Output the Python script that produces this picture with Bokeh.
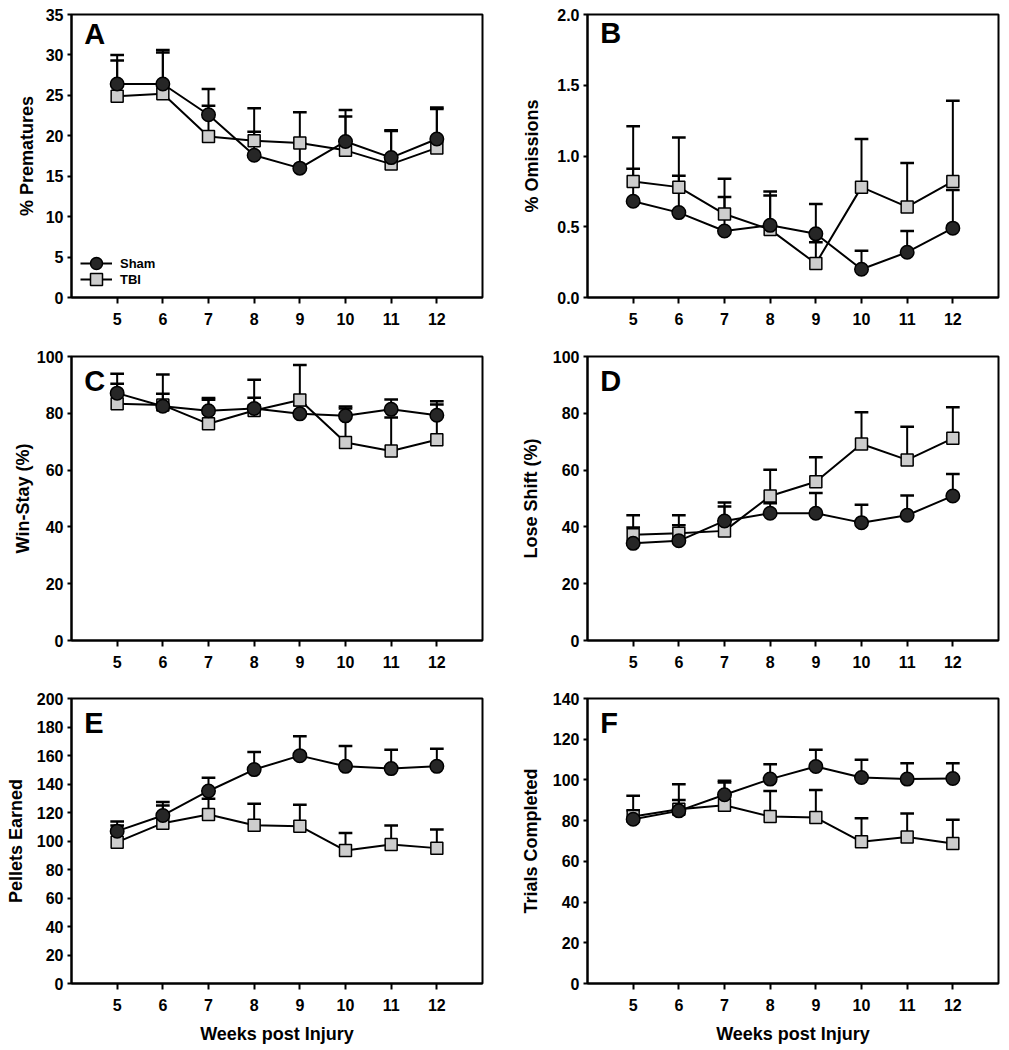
import numpy as np
from bokeh.plotting import figure
from bokeh.models import Range1d, FixedTicker, Label, Legend, LegendItem, NumeralTickFormatter
from bokeh.layouts import gridplot
from bokeh.embed import file_html
from bokeh.resources import INLINE

# ---------------- data ----------------
weeks = [5, 6, 7, 8, 9, 10, 11, 12]

# A: % Premature responses
sham_prem = [26.4, 26.4, 22.6, 17.6, 16.0, 19.3, 17.3, 19.6]
sham_prem_sem = [3.6, 4.2, 3.2, 2.9, 3.0, 3.9, 3.4, 3.9]
tbi_prem = [24.9, 25.2, 19.9, 19.4, 19.1, 18.2, 16.5, 18.5]
tbi_prem_sem = [4.4, 5.1, 3.8, 4.0, 3.8, 4.2, 4.1, 4.8]
ticks_prem = [0, 5, 10, 15, 20, 25, 30, 35]

# B: % Omissions
sham_om = [0.68, 0.60, 0.47, 0.51, 0.45, 0.20, 0.32, 0.49]
sham_om_sem = [0.23, 0.26, 0.24, 0.21, 0.21, 0.13, 0.15, 0.27]
tbi_om = [0.82, 0.78, 0.59, 0.48, 0.24, 0.78, 0.64, 0.82]
tbi_om_sem = [0.39, 0.35, 0.25, 0.27, 0.15, 0.34, 0.31, 0.57]
ticks_om = [0.0, 0.5, 1.0, 1.5, 2.0]

# C: Win-Stay (%)
sham_ws = [87.1, 82.5, 80.9, 81.7, 79.8, 79.1, 81.4, 79.3]
sham_ws_sem = [6.8, 4.4, 4.5, 3.8, 3.0, 3.3, 3.5, 4.9]
tbi_ws = [83.4, 82.9, 76.3, 81.0, 84.7, 69.7, 66.7, 70.7]
tbi_ws_sem = [7.0, 10.8, 8.5, 10.8, 12.3, 12.0, 11.8, 12.4]
ticks_ws = [0, 20, 40, 60, 80, 100]

# D: Lose Shift (%)
sham_ls = [34.2, 35.1, 42.1, 44.8, 44.8, 41.5, 44.1, 50.9]
sham_ls_sem = [5.6, 5.5, 6.5, 3.5, 7.1, 6.3, 7.0, 7.7]
tbi_ls = [37.2, 37.8, 38.6, 50.9, 55.9, 69.2, 63.6, 71.2]
tbi_ls_sem = [6.9, 6.3, 8.6, 9.2, 8.6, 11.2, 11.7, 10.9]
ticks_ls = [0, 20, 40, 60, 80, 100]

# E: Pellets Earned
sham_pel = [106.9, 117.9, 135.1, 150.1, 159.9, 152.4, 150.8, 152.4]
sham_pel_sem = [6.8, 9.4, 9.3, 12.4, 13.6, 14.3, 13.3, 12.4]
tbi_pel = [99.2, 112.5, 118.6, 111.1, 110.4, 93.3, 97.5, 95.0]
tbi_pel_sem = [11.7, 12.5, 11.0, 15.0, 15.0, 12.4, 13.4, 13.1]
ticks_pel = [0, 20, 40, 60, 80, 100, 120, 140, 160, 180, 200]

# F: Trials Completed
sham_tr = [80.7, 84.8, 92.7, 100.4, 106.6, 101.2, 100.4, 100.7]
sham_tr_sem = [4.4, 5.4, 6.9, 7.3, 8.2, 8.7, 7.8, 7.5]
tbi_tr = [82.0, 85.6, 87.6, 82.0, 81.5, 69.6, 72.0, 68.8]
tbi_tr_sem = [10.2, 12.3, 11.1, 12.6, 13.5, 11.6, 11.5, 11.6]
ticks_tr = [0, 20, 40, 60, 80, 100, 120, 140]

# ---------------- style ----------------
FONT = "Liberation Sans"
SHAM_FILL = "#262626"
TBI_FILL = "#cdcdcd"
CAP_HALF = 0.15


def panel(sham, sham_sem, tbi, tbi_sem, yticks, ylabel, letter, col, row,
          label_standoff, fmt=None, xlabel=None, legend=False):
    ymax = yticks[-1]
    if col == 0:
        width, bl, br = 508, 71, 26
    else:
        width, bl, br = 493, 79, 3
    if row == 0:
        bt = 14 if col == 0 else 11
        fh = 297 - bt
        bb = 51
        letter_off = 19
    elif row == 1:
        bt, fh, bb = 8, 284, 48
        letter_off = 24.5
    else:
        bt, fh, bb = 10, 285, 65
        letter_off = 24.5
    height = bt + fh + bb

    p = figure(width=width, height=height, x_range=Range1d(4, 13), y_range=Range1d(0, ymax),
               output_backend="svg", toolbar_location=None,
               min_border_left=bl, min_border_right=br, min_border_top=bt, min_border_bottom=bb)
    p.grid.visible = False
    p.outline_line_color = "black"
    p.outline_line_width = 2
    p.background_fill_color = "white"
    p.border_fill_color = "white"

    p.xaxis.ticker = FixedTicker(ticks=weeks)
    p.yaxis.ticker = FixedTicker(ticks=yticks)
    if fmt:
        p.yaxis.formatter = NumeralTickFormatter(format=fmt)
    for ax in (p.xaxis[0], p.yaxis[0]):
        ax.axis_line_width = 2
        ax.axis_line_color = "black"
        ax.major_tick_line_width = 2
        ax.major_tick_line_color = "black"
        ax.major_tick_in = 0
        ax.minor_tick_in = 0
        ax.minor_tick_out = 0
        ax.major_label_text_font = FONT
        ax.major_label_text_font_size = "16px"
        ax.major_label_text_font_style = "bold"
        ax.major_label_text_color = "black"
        ax.axis_label_text_font = FONT
        ax.axis_label_text_font_size = "18px"
        ax.axis_label_text_font_style = "bold"
        ax.axis_label_text_color = "black"
    p.xaxis.major_tick_out = 6
    p.xaxis.major_label_standoff = 9
    p.yaxis.major_tick_out = 4
    p.yaxis.major_label_standoff = 4
    p.yaxis.axis_label = ylabel
    p.yaxis.axis_label_standoff = label_standoff
    if xlabel:
        p.xaxis.axis_label = xlabel
        p.xaxis.axis_label_standoff = 10

    x = np.array(weeks, dtype=float)
    for mean, sem in ((tbi, tbi_sem), (sham, sham_sem)):
        m = np.array(mean)
        up = m + np.array(sem)
        p.segment(x0=x, y0=m, x1=x, y1=up, line_color="black", line_width=2)
        p.segment(x0=x - CAP_HALF, y0=up, x1=x + CAP_HALF, y1=up, line_color="black", line_width=2.5)

    r_tl = p.line(weeks, tbi, line_color="black", line_width=2)
    r_tp = p.scatter(weeks, tbi, marker="square", size=12, fill_color=TBI_FILL,
                     line_color="black", line_width=1.5)
    r_sl = p.line(weeks, sham, line_color="black", line_width=2)
    r_sp = p.scatter(weeks, sham, marker="circle", size=13.5, fill_color=SHAM_FILL,
                     line_color="black", line_width=1.5)

    p.add_layout(Label(x=4.28, y=ymax * (1 - letter_off / fh), text=letter, text_font=FONT,
                       text_font_size="29px", text_font_style="bold", text_color="black",
                       text_baseline="alphabetic", text_align="left"))

    if legend:
        common = dict(padding=0, margin=0, spacing=0,
                      glyph_width=32, glyph_height=30, label_height=16, label_standoff=8,
                      label_text_font=FONT, label_text_font_size="13px",
                      label_text_font_style="bold", label_text_color="black",
                      background_fill_alpha=0, border_line_alpha=0)
        p.add_layout(Legend(items=[LegendItem(label="Sham", renderers=[r_sl, r_sp])],
                            location=(9, 19), **common))
        p.add_layout(Legend(items=[LegendItem(label="TBI", renderers=[r_tl, r_tp])],
                            location=(9, 3), **common))
    return p


pA = panel(sham_prem, sham_prem_sem, tbi_prem, tbi_prem_sem, ticks_prem, "% Prematures", "A", 0, 0, 6, legend=True)
pB = panel(sham_om, sham_om_sem, tbi_om, tbi_om_sem, ticks_om, "% Omissions", "B", 1, 0, 12, fmt="0.0")
pC = panel(sham_ws, sham_ws_sem, tbi_ws, tbi_ws_sem, ticks_ws, "Win-Stay (%)", "C", 0, 1, 1)
pD = panel(sham_ls, sham_ls_sem, tbi_ls, tbi_ls_sem, ticks_ls, "Lose Shift (%)", "D", 1, 1, 9)
pE = panel(sham_pel, sham_pel_sem, tbi_pel, tbi_pel_sem, ticks_pel, "Pellets Earned", "E", 0, 2, 8,
           xlabel="Weeks post Injury")
pF = panel(sham_tr, sham_tr_sem, tbi_tr, tbi_tr_sem, ticks_tr, "Trials Completed", "F", 1, 2, 9,
           xlabel="Weeks post Injury")

grid = gridplot([[pA, pB], [pC, pD], [pE, pF]], toolbar_location=None)

open("out.html", "w").write(file_html(grid, INLINE))
